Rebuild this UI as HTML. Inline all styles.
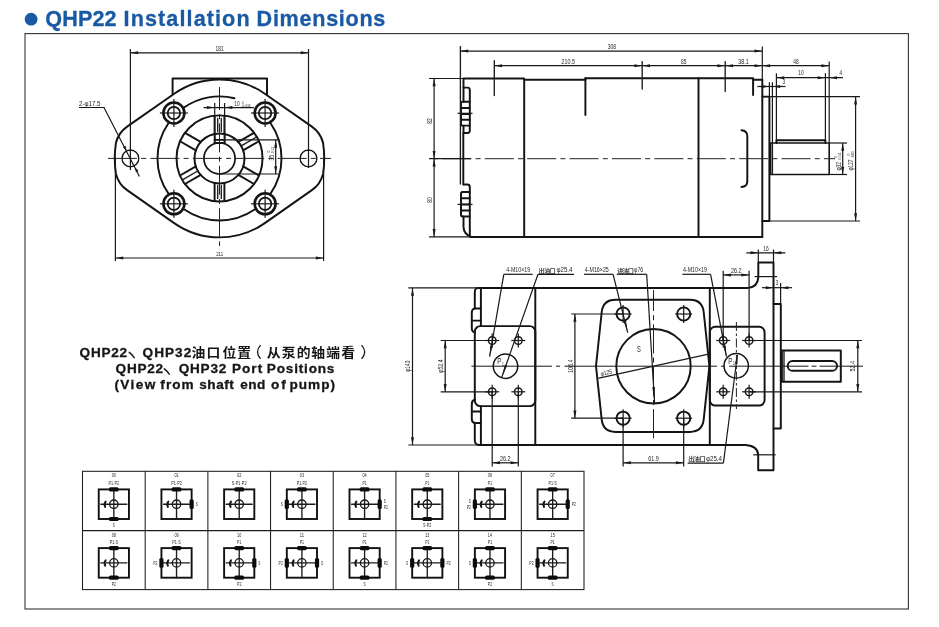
<!DOCTYPE html>
<html><head><meta charset="utf-8"><title>QHP22 Installation Dimensions</title>
<style>
html,body{margin:0;padding:0;background:#fff;overflow:hidden}
svg{display:block;position:absolute;left:0;top:0;will-change:transform;opacity:.999;filter:blur(.4px)}
text{font-family:"Liberation Sans","Noto Sans CJK SC",sans-serif}
.k{fill:none;stroke:#141414;stroke-width:1.95;stroke-linecap:round;stroke-linejoin:round}
.kk{fill:none;stroke:#111;stroke-width:1.9;stroke-linecap:butt;stroke-linejoin:round}
.m{fill:none;stroke:#1c1c1c;stroke-width:1.35;stroke-linecap:round}
.t{fill:none;stroke:#181818;stroke-width:1.2}
.c{fill:none;stroke:#222;stroke-width:1;stroke-dasharray:29 4.2 5 4.2}
.c2{fill:none;stroke:#222;stroke-width:1;stroke-dasharray:9 2.5 2.5 2.5}
.a{fill:#1a1a1a;stroke:none}
.d{fill:#262626;font-weight:400}
.g{fill:#161616;font-weight:700}
.gs{fill:#333;opacity:.9;font-weight:700}
.b{fill:#161616;font-weight:700;stroke:#161616;stroke-width:.3}
.h{fill:#1a5aa4;font-weight:700;stroke:#1a5aa4;stroke-width:.3}
.bar{fill:#0c0c0c;stroke:none}
.tb{fill:none;stroke:#1c1c1c;stroke-width:1.05}
.sq{fill:none;stroke:#111;stroke-width:1.9;stroke-linejoin:miter}
</style></head><body>
<svg width="939" height="627" viewBox="0 0 939 627">
<rect x="0" y="0" width="939" height="627" fill="#ffffff"/>
<rect x="25" y="33.6" width="883.4" height="575.4" fill="none" stroke="#333" stroke-width="1.1"/>
<circle cx="31.1" cy="19.2" r="6.4" fill="#1a5aa4"/>
<text class="h" transform="translate(45.2 26) scale(1.0 1)" font-size="21.6" letter-spacing="0.147">QHP22</text>
<text class="h" transform="translate(123.6 26) scale(1.0 1)" font-size="21.6" letter-spacing="1.092">Installation</text>
<text class="h" transform="translate(256.6 26) scale(1.0 1)" font-size="21.6" letter-spacing="0.710">Dimensions</text>
<text class="b" transform="translate(79.6 356.5) scale(1.07 1)" font-size="12.7" letter-spacing="0.672">QHP22</text>
<path class="t" d="M129.3,352.4Q132,354.4 134.2,357.6" style="stroke-width:1.5;stroke:#161616;stroke-linecap:round"/>
<text class="b" transform="translate(142.6 356.5) scale(1.07 1)" font-size="12.7" letter-spacing="0.953">QHP32</text>
<text class="g" transform="translate(191.6 356.9) scale(1.08 1)" font-size="12.8">油</text>
<text class="g" transform="translate(206.5 356.9) scale(1.08 1)" font-size="12.8">口</text>
<text class="g" transform="translate(222.4 356.9) scale(1.08 1)" font-size="12.8">位</text>
<text class="g" transform="translate(237.2 356.9) scale(1.08 1)" font-size="12.8">置</text>
<text class="g" transform="translate(266.8 356.9) scale(1.08 1)" font-size="12.8">从</text>
<text class="g" transform="translate(281.7 356.9) scale(1.08 1)" font-size="12.8">泵</text>
<text class="g" transform="translate(296.7 356.9) scale(1.08 1)" font-size="12.8">的</text>
<text class="g" transform="translate(311.3 356.9) scale(1.08 1)" font-size="12.8">轴</text>
<text class="g" transform="translate(326.3 356.9) scale(1.08 1)" font-size="12.8">端</text>
<text class="g" transform="translate(341.3 356.9) scale(1.08 1)" font-size="12.8">看</text>
<path class="t" d="M260.6,345.2Q254.4,352 260.6,358.9" style="stroke-width:1.25;stroke:#161616"/>
<path class="t" d="M361.6,345.2Q367.8,352 361.6,358.9" style="stroke-width:1.25;stroke:#161616"/>
<text class="b" transform="translate(115.6 373) scale(1.07 1)" font-size="12.7" letter-spacing="0.672">QHP22</text>
<path class="t" d="M164.3,368.9Q167,370.9 169.2,374.1" style="stroke-width:1.5;stroke:#161616;stroke-linecap:round"/>
<text class="b" transform="translate(178.8 373) scale(1.07 1)" font-size="12.7" letter-spacing="0.672">QHP32</text>
<text class="b" transform="translate(231.9 373) scale(1.07 1)" font-size="12.7" letter-spacing="0.981">Port</text>
<text class="b" transform="translate(266.8 373) scale(1.07 1)" font-size="12.7" letter-spacing="0.759">Positions</text>
<text class="b" transform="translate(114.4 389.2) scale(1.07 1)" font-size="12.7" letter-spacing="1.349">(View</text>
<text class="b" transform="translate(160.3 389.2) scale(1.07 1)" font-size="12.7" letter-spacing="1.004">from</text>
<text class="b" transform="translate(199.3 389.2) scale(1.07 1)" font-size="12.7" letter-spacing="0.483">shaft</text>
<text class="b" transform="translate(240.2 389.2) scale(1.07 1)" font-size="12.7" letter-spacing="0.494">end</text>
<text class="b" transform="translate(270.9 389.2) scale(1.07 1)" font-size="12.7" letter-spacing="1.941">of</text>
<text class="b" transform="translate(289.4 389.2) scale(1.07 1)" font-size="12.7" letter-spacing="0.963">pump)</text>
<path class="k" d="M174.19,93.69A79.0,79.0 0 0 1 264.81,93.69L311.87,126.64Q320.47,132.66 323.06,142.83A104.2,104.2 0 0 1 323.06,173.97Q320.47,184.14 311.87,190.16L264.81,223.11A79.0,79.0 0 0 1 174.19,223.11L127.13,190.16Q118.53,184.14 115.94,173.97A104.2,104.2 0 0 1 115.94,142.83Q118.53,132.66 127.13,126.64Z"/>
<path class="k" d="M172.6,94.5V78.5H267V94.5"/>
<path class="k" d="M270.6,193.52A62,62 0 0 0 270.6,123.28"/>
<path class="k" d="M184.38,209.5A62,62 0 0 0 254.62,209.5"/>
<path class="k" d="M168.4,123.28A62,62 0 0 0 168.4,193.52"/>
<path class="k" d="M234.5,98.24A62,62 0 0 0 184.38,107.3"/>
<circle class="k" cx="219.5" cy="158.4" r="43"/>
<circle class="k" cx="219.5" cy="158.4" r="25"/>
<circle class="k" cx="219.5" cy="158.4" r="15.6" style="stroke-width:1.7"/>
<line class="k" x1="214.6" y1="133.88" x2="214.6" y2="115.68"/>
<line class="k" x1="224.4" y1="133.88" x2="224.4" y2="115.68"/>
<line class="m" x1="217.7" y1="131.4" x2="217.7" y2="118.4"/>
<line class="m" x1="221.3" y1="131.4" x2="221.3" y2="118.4"/>
<line class="k" x1="238.28" y1="141.9" x2="254.05" y2="132.8"/>
<line class="k" x1="243.18" y1="150.39" x2="258.95" y2="141.28"/>
<line class="m" x1="241.32" y1="145.8" x2="256.57" y2="137"/>
<line class="k" x1="243.18" y1="166.41" x2="258.95" y2="175.52"/>
<line class="k" x1="238.28" y1="174.9" x2="254.05" y2="184"/>
<line class="k" x1="224.4" y1="182.92" x2="224.4" y2="201.12"/>
<line class="k" x1="214.6" y1="182.92" x2="214.6" y2="201.12"/>
<line class="m" x1="221.3" y1="185.4" x2="221.3" y2="198.4"/>
<line class="m" x1="217.7" y1="185.4" x2="217.7" y2="198.4"/>
<line class="k" x1="200.72" y1="174.9" x2="184.95" y2="184"/>
<line class="k" x1="195.82" y1="166.41" x2="180.05" y2="175.52"/>
<line class="m" x1="197.68" y1="171" x2="182.43" y2="179.8"/>
<line class="k" x1="195.82" y1="150.39" x2="180.05" y2="141.28"/>
<line class="k" x1="200.72" y1="141.9" x2="184.95" y2="132.8"/>
<line class="k" x1="214.7" y1="133.6" x2="214.7" y2="140"/>
<line class="k" x1="224.6" y1="133.6" x2="224.6" y2="140"/>
<path class="kk" d="M214.7,143.5V139.9H224.6V143.5"/>
<line class="k" x1="214.7" y1="142.9" x2="224.6" y2="142.9"/>
<circle class="k" cx="130.4" cy="158.4" r="8.4" style="stroke-width:1.35"/>
<circle class="k" cx="308.5" cy="158.4" r="8.4" style="stroke-width:1.35"/>
<circle class="k" cx="173.9" cy="113" r="10.5" style="stroke-width:2.6"/>
<circle class="k" cx="173.9" cy="113" r="6.2" style="stroke-width:1.8"/>
<line class="t" x1="159.9" y1="113" x2="187.9" y2="113"/>
<line class="t" x1="173.9" y1="99" x2="173.9" y2="127"/>
<circle class="k" cx="173.9" cy="203.8" r="10.5" style="stroke-width:2.6"/>
<circle class="k" cx="173.9" cy="203.8" r="6.2" style="stroke-width:1.8"/>
<line class="t" x1="159.9" y1="203.8" x2="187.9" y2="203.8"/>
<line class="t" x1="173.9" y1="189.8" x2="173.9" y2="217.8"/>
<circle class="k" cx="265.1" cy="113" r="10.5" style="stroke-width:2.6"/>
<circle class="k" cx="265.1" cy="113" r="6.2" style="stroke-width:1.8"/>
<line class="t" x1="251.1" y1="113" x2="279.1" y2="113"/>
<line class="t" x1="265.1" y1="99" x2="265.1" y2="127"/>
<circle class="k" cx="265.1" cy="203.8" r="10.5" style="stroke-width:2.6"/>
<circle class="k" cx="265.1" cy="203.8" r="6.2" style="stroke-width:1.8"/>
<line class="t" x1="251.1" y1="203.8" x2="279.1" y2="203.8"/>
<line class="t" x1="265.1" y1="189.8" x2="265.1" y2="217.8"/>
<line class="c" x1="108" y1="158.4" x2="331" y2="158.4"/>
<line class="c" x1="219.5" y1="87" x2="219.5" y2="246" stroke-dashoffset="6"/>
<line class="t" x1="130.4" y1="49" x2="130.4" y2="170"/>
<line class="t" x1="308.5" y1="49" x2="308.5" y2="168"/>
<line class="t" x1="130.4" y1="52.8" x2="308.5" y2="52.8"/>
<path class="a" d="M130.4,52.8L138.2,51.3L138.2,54.3Z"/>
<path class="a" d="M308.5,52.8L300.7,54.3L300.7,51.3Z"/>
<text class="d" x="219.6" y="50.6" font-size="6.6" text-anchor="middle" textLength="8.25" lengthAdjust="spacingAndGlyphs">181</text>
<line class="t" x1="115.4" y1="158.4" x2="115.4" y2="261"/>
<line class="t" x1="323.6" y1="158.4" x2="323.6" y2="261"/>
<line class="t" x1="115.4" y1="258" x2="323.6" y2="258"/>
<path class="a" d="M115.4,258L123.2,256.5L123.2,259.5Z"/>
<path class="a" d="M323.6,258L315.8,259.5L315.8,256.5Z"/>
<text class="d" x="219.6" y="256" font-size="5.6" text-anchor="middle" textLength="6.9" lengthAdjust="spacingAndGlyphs">211</text>
<line class="t" x1="214.7" y1="103" x2="214.7" y2="139"/>
<line class="t" x1="224.6" y1="103" x2="224.6" y2="139"/>
<line class="t" x1="203.5" y1="107.6" x2="254" y2="107.6"/>
<path class="a" d="M214.7,107.6L206.9,109.1L206.9,106.1Z"/>
<path class="a" d="M224.6,107.6L232.4,106.1L232.4,109.1Z"/>
<text class="d" x="237" y="106.3" font-size="6.6" text-anchor="middle" textLength="5.4" lengthAdjust="spacingAndGlyphs">10</text>
<text class="d" x="246" y="107.2" font-size="3.6" text-anchor="middle" textLength="9" lengthAdjust="spacingAndGlyphs">-0.036</text>
<text class="d" x="242.6" y="103.6" font-size="3.6" text-anchor="middle" textLength="1.8" lengthAdjust="spacingAndGlyphs">0</text>
<line class="t" x1="224.6" y1="139.9" x2="278.5" y2="139.9"/>
<line class="t" x1="219.5" y1="174" x2="278.5" y2="174"/>
<line class="t" x1="275.7" y1="139.9" x2="275.7" y2="174"/>
<path class="a" d="M275.7,139.9L277.2,147.7L274.2,147.7Z"/>
<path class="a" d="M275.7,174L274.2,166.2L277.2,166.2Z"/>
<text class="d" x="273.6" y="160.5" font-size="6.6" text-anchor="start" textLength="5.4" lengthAdjust="spacingAndGlyphs" transform="rotate(-90 273.6 160.5)">35</text>
<text class="d" x="273.8" y="154.4" font-size="3.6" text-anchor="start" textLength="7.5" lengthAdjust="spacingAndGlyphs" transform="rotate(-90 273.8 154.4)">-0.13</text>
<text class="d" x="270.4" y="152.5" font-size="3.6" text-anchor="start" textLength="1.8" lengthAdjust="spacingAndGlyphs" transform="rotate(-90 270.4 152.5)">0</text>
<text class="d" x="79" y="105.6" font-size="6.6" text-anchor="start" textLength="21.5" lengthAdjust="spacingAndGlyphs">2-φ17.5</text>
<path class="t" d="M79,107.5H104L139.4,176.4"/>
<path class="a" d="M126.6,151L122.97,147.24L125.64,145.87Z"/>
<path class="a" d="M135,167.2L138.63,170.96L135.96,172.33Z"/>
<path class="k" d="M463.5,101.8V78.5H524V79.7H585.4V78.3H753.1V95.1"/>
<path class="k" d="M753.1,79.8H762.3"/>
<line class="k" x1="524.2" y1="79" x2="524.2" y2="236.9"/>
<line class="k" x1="585.4" y1="78.3" x2="585.4" y2="115"/>
<line class="k" x1="698.5" y1="78.3" x2="698.5" y2="236.9"/>
<line class="k" x1="762.3" y1="79.8" x2="762.3" y2="236.9"/>
<path class="k" d="M470.5,236.9H762.3"/>
<path class="k" d="M463.5,87.6H467.5Q469.8,87.6 469.8,90V130.5Q469.8,133 467.5,133H463.8"/>
<path class="k" d="M469.8,101.8H462.5Q461,101.8 461,103.5V124Q461,125.6 462.5,125.6H469.8"/>
<line class="k" x1="461" y1="108" x2="469.8" y2="108"/>
<line class="k" x1="461" y1="114" x2="469.8" y2="114"/>
<line class="k" x1="461" y1="119.8" x2="469.8" y2="119.8"/>
<line class="t" x1="457.5" y1="113.3" x2="472.5" y2="113.3"/>
<line class="m" x1="460.4" y1="46.6" x2="460.4" y2="184"/>
<line class="k" x1="463.3" y1="133" x2="463.3" y2="184.5"/>
<line class="k" x1="463.5" y1="125.6" x2="463.5" y2="133"/>
<path class="k" d="M463.8,184.5H467.5Q469.8,184.5 469.8,187V235.5"/>
<path class="k" d="M469.8,192H462.5Q461,192 461,193.7V214.7Q461,216.4 462.5,216.4H469.8"/>
<line class="k" x1="461" y1="198.3" x2="469.8" y2="198.3"/>
<line class="k" x1="461" y1="204.4" x2="469.8" y2="204.4"/>
<line class="k" x1="461" y1="210.5" x2="469.8" y2="210.5"/>
<line class="t" x1="457.5" y1="204.4" x2="472.5" y2="204.4"/>
<path class="k" d="M463.5,216.4V227Q463.8,234 471,236.9"/>
<path class="k" d="M741.5,130.2Q747.3,130.6 747.3,136V181.5Q747.3,186.6 741.5,187"/>
<path class="k" d="M762.3,96.6H769.4V221H762.3"/>
<line class="t" x1="762.3" y1="96.6" x2="860" y2="96.6"/>
<line class="t" x1="762.3" y1="221" x2="860" y2="221"/>
<path class="k" d="M770.6,143H829.2V174.5H770.6Z" style="stroke-width:1.6"/>
<line class="m" x1="772.4" y1="143" x2="772.4" y2="174.5"/>
<path class="k" d="M776.4,143V140.2H825.4V143"/>
<line class="t" x1="829.2" y1="143" x2="847" y2="143"/>
<line class="t" x1="829.2" y1="174.5" x2="847" y2="174.5"/>
<line class="c" x1="429" y1="158.7" x2="835" y2="158.7" stroke-dashoffset="29"/>
<line class="t" x1="429" y1="158.7" x2="471" y2="158.7"/>
<line class="t" x1="429" y1="78.5" x2="463" y2="78.5"/>
<line class="t" x1="429" y1="236.9" x2="470" y2="236.9"/>
<line class="t" x1="434.1" y1="78.5" x2="434.1" y2="236.9"/>
<path class="a" d="M434.1,78.5L435.6,86.3L432.6,86.3Z"/>
<path class="a" d="M434.1,158.7L432.6,150.9L435.6,150.9Z"/>
<path class="a" d="M434.1,158.7L435.6,166.5L432.6,166.5Z"/>
<path class="a" d="M434.1,236.9L432.6,229.1L435.6,229.1Z"/>
<text class="d" x="431.6" y="121" font-size="6.6" text-anchor="middle" textLength="5.4" lengthAdjust="spacingAndGlyphs" transform="rotate(-90 431.6 121)">82</text>
<text class="d" x="431.6" y="200" font-size="6.6" text-anchor="middle" textLength="5.4" lengthAdjust="spacingAndGlyphs" transform="rotate(-90 431.6 200)">80</text>
<line class="t" x1="460.4" y1="51.1" x2="762.3" y2="51.1"/>
<path class="a" d="M460.4,51.1L468.2,49.6L468.2,52.6Z"/>
<path class="a" d="M762.3,51.1L754.5,52.6L754.5,49.6Z"/>
<text class="d" x="611.8" y="48.8" font-size="6.6" text-anchor="middle" textLength="8.25" lengthAdjust="spacingAndGlyphs">308</text>
<line class="t" x1="762.3" y1="46.6" x2="762.3" y2="80"/>
<line class="m" x1="494.3" y1="60.7" x2="494.3" y2="95.6"/>
<line class="m" x1="642.2" y1="61.6" x2="642.2" y2="89"/>
<line class="m" x1="725.2" y1="61.6" x2="725.2" y2="91.5"/>
<line class="t" x1="829.2" y1="61.6" x2="829.2" y2="143"/>
<line class="t" x1="494.3" y1="65.7" x2="829.2" y2="65.7"/>
<path class="a" d="M494.3,65.7L502.1,64.2L502.1,67.2Z"/>
<path class="a" d="M642.2,65.7L634.4,67.2L634.4,64.2Z"/>
<path class="a" d="M642.2,65.7L650,64.2L650,67.2Z"/>
<path class="a" d="M725.2,65.7L717.4,67.2L717.4,64.2Z"/>
<path class="a" d="M725.2,65.7L733,64.2L733,67.2Z"/>
<path class="a" d="M762.3,65.7L754.5,67.2L754.5,64.2Z"/>
<path class="a" d="M762.3,65.7L770.1,64.2L770.1,67.2Z"/>
<path class="a" d="M829.2,65.7L821.4,67.2L821.4,64.2Z"/>
<text class="d" x="568.3" y="64.1" font-size="6.6" text-anchor="middle" textLength="13.5" lengthAdjust="spacingAndGlyphs">210.5</text>
<text class="d" x="683.8" y="64.1" font-size="6.6" text-anchor="middle" textLength="5.4" lengthAdjust="spacingAndGlyphs">85</text>
<text class="d" x="743.5" y="64.1" font-size="6.6" text-anchor="middle" textLength="10.5" lengthAdjust="spacingAndGlyphs">38.1</text>
<text class="d" x="796" y="64.1" font-size="6.6" text-anchor="middle" textLength="5.4" lengthAdjust="spacingAndGlyphs">48</text>
<line class="t" x1="776.4" y1="73.2" x2="776.4" y2="140"/>
<line class="t" x1="825.4" y1="73.2" x2="825.4" y2="140"/>
<line class="t" x1="776.4" y1="77.7" x2="843" y2="77.7"/>
<path class="a" d="M776.4,77.7L784.2,76.2L784.2,79.2Z"/>
<path class="a" d="M825.4,77.7L817.6,79.2L817.6,76.2Z"/>
<path class="a" d="M829.2,77.7L837,76.2L837,79.2Z"/>
<text class="d" x="801" y="75.3" font-size="6.6" text-anchor="middle" textLength="5.4" lengthAdjust="spacingAndGlyphs">10</text>
<text class="d" x="840.9" y="75.3" font-size="6.6" text-anchor="middle" textLength="2.6" lengthAdjust="spacingAndGlyphs">4</text>
<line class="t" x1="769.4" y1="82.3" x2="769.4" y2="97"/>
<line class="t" x1="772.4" y1="82.3" x2="772.4" y2="143"/>
<line class="t" x1="757.3" y1="86.5" x2="785.5" y2="86.5"/>
<path class="a" d="M769.4,86.5L761.6,88L761.6,85Z"/>
<path class="a" d="M772.4,86.5L780.2,85L780.2,88Z"/>
<text class="d" x="783.9" y="84.4" font-size="6.6" text-anchor="middle" textLength="2.6" lengthAdjust="spacingAndGlyphs">3</text>
<line class="t" x1="842.7" y1="143" x2="842.7" y2="174.5"/>
<path class="a" d="M842.7,143L844.2,150.8L841.2,150.8Z"/>
<path class="a" d="M842.7,174.5L841.2,166.7L844.2,166.7Z"/>
<line class="t" x1="855.6" y1="96.6" x2="855.6" y2="221"/>
<path class="a" d="M855.6,96.6L857.1,104.4L854.1,104.4Z"/>
<path class="a" d="M855.6,221L854.1,213.2L857.1,213.2Z"/>
<text class="d" x="840.6" y="170.5" font-size="6.6" text-anchor="start" textLength="8.5" lengthAdjust="spacingAndGlyphs" transform="rotate(-90 840.6 170.5)">φ32</text>
<text class="d" x="840.8" y="160.5" font-size="3.6" text-anchor="start" textLength="8" lengthAdjust="spacingAndGlyphs" transform="rotate(-90 840.8 160.5)">-0.011</text>
<text class="d" x="837.4" y="158" font-size="3.6" text-anchor="start" textLength="1.8" lengthAdjust="spacingAndGlyphs" transform="rotate(-90 837.4 158)">0</text>
<text class="d" x="853.4" y="170.5" font-size="6.6" text-anchor="start" textLength="11" lengthAdjust="spacingAndGlyphs" transform="rotate(-90 853.4 170.5)">φ127</text>
<text class="d" x="853.6" y="158" font-size="3.6" text-anchor="start" textLength="7" lengthAdjust="spacingAndGlyphs" transform="rotate(-90 853.6 158)">-0.05</text>
<text class="d" x="850.2" y="155.5" font-size="3.6" text-anchor="start" textLength="1.8" lengthAdjust="spacingAndGlyphs" transform="rotate(-90 850.2 155.5)">0</text>
<path class="k" d="M478.5,287.9H748Q757.8,287 758.3,277.4V262.5H773.5V470.2H758.2V454.8Q757.8,446 745.8,445H479"/>
<path class="k" d="M478.5,287.9Q474.8,288 474.8,292V308.5"/>
<path class="k" d="M474.8,423V440.5Q475,444.6 479,445"/>
<line class="k" x1="480.9" y1="287.9" x2="480.9" y2="326.1"/>
<line class="k" x1="480.9" y1="406.1" x2="480.9" y2="445"/>
<path class="k" d="M480.9,308.5H474.8Q471.8,309 471.8,313V328Q471.8,332 474.8,332.2H475"/>
<line class="k" x1="471.8" y1="320.6" x2="480.9" y2="320.6"/>
<path class="k" d="M475,399.8H474.8Q471.8,400.5 471.8,404V419Q471.8,422.6 474.8,423H480.9"/>
<line class="k" x1="471.8" y1="411.4" x2="480.9" y2="411.4"/>
<line class="k" x1="535.3" y1="287.9" x2="535.3" y2="445"/>
<line class="k" x1="709.8" y1="287.9" x2="709.8" y2="445"/>
<rect class="k" x="474.8" y="326.1" width="60.5" height="80" rx="5.5"/>
<rect class="k" x="709.8" y="326.8" width="54.8" height="78.8" rx="5.5"/>
<circle class="k" cx="492.2" cy="340.5" r="3.8" style="stroke-width:1.4"/>
<line class="t" x1="485.2" y1="340.5" x2="499.2" y2="340.5"/>
<line class="t" x1="492.2" y1="333.5" x2="492.2" y2="347.5"/>
<circle class="k" cx="518.3" cy="340.5" r="3.8" style="stroke-width:1.4"/>
<line class="t" x1="511.3" y1="340.5" x2="525.3" y2="340.5"/>
<line class="t" x1="518.3" y1="333.5" x2="518.3" y2="347.5"/>
<circle class="k" cx="492.2" cy="391.8" r="3.8" style="stroke-width:1.4"/>
<line class="t" x1="485.2" y1="391.8" x2="499.2" y2="391.8"/>
<line class="t" x1="492.2" y1="384.8" x2="492.2" y2="398.8"/>
<circle class="k" cx="518.3" cy="391.8" r="3.8" style="stroke-width:1.4"/>
<line class="t" x1="511.3" y1="391.8" x2="525.3" y2="391.8"/>
<line class="t" x1="518.3" y1="384.8" x2="518.3" y2="398.8"/>
<circle class="k" cx="723.2" cy="340.5" r="3.8" style="stroke-width:1.4"/>
<line class="t" x1="716.2" y1="340.5" x2="730.2" y2="340.5"/>
<line class="t" x1="723.2" y1="333.5" x2="723.2" y2="347.5"/>
<circle class="k" cx="749.1" cy="340.5" r="3.8" style="stroke-width:1.4"/>
<line class="t" x1="742.1" y1="340.5" x2="756.1" y2="340.5"/>
<line class="t" x1="749.1" y1="333.5" x2="749.1" y2="347.5"/>
<circle class="k" cx="723.2" cy="391.8" r="3.8" style="stroke-width:1.4"/>
<line class="t" x1="716.2" y1="391.8" x2="730.2" y2="391.8"/>
<line class="t" x1="723.2" y1="384.8" x2="723.2" y2="398.8"/>
<circle class="k" cx="749.1" cy="391.8" r="3.8" style="stroke-width:1.4"/>
<line class="t" x1="742.1" y1="391.8" x2="756.1" y2="391.8"/>
<line class="t" x1="749.1" y1="384.8" x2="749.1" y2="398.8"/>
<circle class="k" cx="505.5" cy="366.2" r="12.2" style="stroke-width:1.5"/>
<circle class="k" cx="736.2" cy="365.8" r="12.2" style="stroke-width:1.5"/>
<path class="k" d="M615.5,299.8Q603,299.8 601.69,312.23L596,366.2L601.68,419.47Q603,431.9 615.5,431.9L689.9,431.9Q702.4,431.9 703.72,419.47L709.4,366.2L703.71,312.23Q702.4,299.8 689.9,299.8Z"/>
<circle class="k" cx="653.5" cy="366.2" r="37.2"/>
<circle class="k" cx="623.1" cy="314" r="6.6" style="stroke-width:1.9"/>
<line class="t" x1="614.6" y1="314" x2="631.6" y2="314"/>
<line class="t" x1="623.1" y1="305" x2="623.1" y2="323"/>
<circle class="k" cx="683.7" cy="314" r="6.6" style="stroke-width:1.9"/>
<line class="t" x1="675.2" y1="314" x2="692.2" y2="314"/>
<line class="t" x1="683.7" y1="305" x2="683.7" y2="323"/>
<circle class="k" cx="623.1" cy="418.2" r="6.6" style="stroke-width:1.9"/>
<line class="t" x1="614.6" y1="418.2" x2="631.6" y2="418.2"/>
<line class="t" x1="623.1" y1="409.2" x2="623.1" y2="427.2"/>
<circle class="k" cx="683.7" cy="418.2" r="6.6" style="stroke-width:1.9"/>
<line class="t" x1="675.2" y1="418.2" x2="692.2" y2="418.2"/>
<line class="t" x1="683.7" y1="409.2" x2="683.7" y2="427.2"/>
<line class="m" x1="599" y1="378.2" x2="708.5" y2="354.1"/>
<text class="d" font-size="6.2" text-anchor="middle" textLength="12" lengthAdjust="spacingAndGlyphs" transform="translate(606.8 374.6) rotate(-12.4)">φ125</text>
<line class="t" x1="471.4" y1="366.2" x2="552" y2="366.2" style="stroke-width:1"/>
<line class="t" x1="556" y1="366.2" x2="560" y2="366.2" style="stroke-width:1"/>
<line class="t" x1="564.5" y1="366.2" x2="717" y2="366.2" style="stroke-width:1"/>
<line class="t" x1="721" y1="366.2" x2="725" y2="366.2" style="stroke-width:1"/>
<line class="t" x1="729" y1="366.2" x2="808.5" y2="366.2" style="stroke-width:1"/>
<line class="t" x1="811.5" y1="366.2" x2="816.5" y2="366.2" style="stroke-width:1"/>
<line class="t" x1="819.5" y1="366.2" x2="863" y2="366.2" style="stroke-width:1"/>
<line class="c" x1="653.5" y1="290" x2="653.5" y2="438.5" stroke-dashoffset="8"/>
<line class="c2" x1="736.4" y1="322" x2="736.4" y2="409"/>
<path class="k" d="M773.5,304H780.8V428.5H773.5"/>
<path class="k" d="M781.9,350.4H840.8V381.8H781.9Z"/>
<line class="m" x1="784" y1="350.4" x2="784" y2="381.8"/>
<rect class="k" x="787.7" y="361" width="49.3" height="9.8" rx="4.9"/>
<line class="t" x1="754.6" y1="276.6" x2="777" y2="276.6"/>
<line class="t" x1="753.3" y1="454.8" x2="775.7" y2="454.8"/>
<line class="t" x1="758.3" y1="249.5" x2="758.3" y2="262"/>
<line class="t" x1="773.5" y1="249.5" x2="773.5" y2="262"/>
<line class="t" x1="746.3" y1="252.8" x2="785.4" y2="252.8"/>
<path class="a" d="M758.3,252.8L750.5,254.3L750.5,251.3Z"/>
<path class="a" d="M773.5,252.8L781.3,251.3L781.3,254.3Z"/>
<text class="d" x="766" y="250.6" font-size="6.6" text-anchor="middle" textLength="5.4" lengthAdjust="spacingAndGlyphs">16</text>
<line class="t" x1="773.5" y1="283" x2="773.5" y2="304"/>
<line class="t" x1="780.6" y1="283" x2="780.6" y2="304"/>
<line class="t" x1="762" y1="287.7" x2="792" y2="287.7"/>
<path class="a" d="M773.5,287.7L765.7,289.2L765.7,286.2Z"/>
<path class="a" d="M780.6,287.7L788.4,286.2L788.4,289.2Z"/>
<text class="d" x="777" y="284.6" font-size="6.6" text-anchor="middle" textLength="2.6" lengthAdjust="spacingAndGlyphs">3</text>
<line class="t" x1="749.1" y1="340.5" x2="862" y2="340.5"/>
<line class="t" x1="749.1" y1="391.8" x2="862" y2="391.8"/>
<line class="t" x1="857.8" y1="340.5" x2="857.8" y2="391.8"/>
<path class="a" d="M857.8,340.5L859.3,348.3L856.3,348.3Z"/>
<path class="a" d="M857.8,391.8L856.3,384L859.3,384Z"/>
<text class="d" x="855" y="366.2" font-size="6.6" text-anchor="middle" textLength="10.5" lengthAdjust="spacingAndGlyphs" transform="rotate(-90 855 366.2)">52.4</text>
<line class="t" x1="723.2" y1="270.8" x2="723.2" y2="340.5"/>
<line class="t" x1="749.1" y1="270.8" x2="749.1" y2="340.5"/>
<line class="t" x1="723.2" y1="274.9" x2="749.1" y2="274.9"/>
<path class="a" d="M723.2,274.9L731,273.4L731,276.4Z"/>
<path class="a" d="M749.1,274.9L741.3,276.4L741.3,273.4Z"/>
<text class="d" x="736.2" y="272.6" font-size="6.6" text-anchor="middle" textLength="10.5" lengthAdjust="spacingAndGlyphs">26.2</text>
<line class="t" x1="492.2" y1="391.8" x2="492.2" y2="466.5"/>
<line class="t" x1="518.3" y1="391.8" x2="518.3" y2="466.5"/>
<line class="t" x1="492.2" y1="462.8" x2="518.3" y2="462.8"/>
<path class="a" d="M492.2,462.8L500,461.3L500,464.3Z"/>
<path class="a" d="M518.3,462.8L510.5,464.3L510.5,461.3Z"/>
<text class="d" x="505.2" y="460.6" font-size="6.6" text-anchor="middle" textLength="10.5" lengthAdjust="spacingAndGlyphs">26.2</text>
<line class="t" x1="623.1" y1="418.2" x2="623.1" y2="466.5"/>
<line class="t" x1="683.7" y1="418.2" x2="683.7" y2="466.5"/>
<line class="t" x1="623.1" y1="462.8" x2="683.7" y2="462.8"/>
<path class="a" d="M623.1,462.8L630.9,461.3L630.9,464.3Z"/>
<path class="a" d="M683.7,462.8L675.9,464.3L675.9,461.3Z"/>
<text class="d" x="653.5" y="460.6" font-size="6.6" text-anchor="middle" textLength="10.5" lengthAdjust="spacingAndGlyphs">61.9</text>
<line class="t" x1="571.2" y1="314" x2="623" y2="314"/>
<line class="t" x1="571.2" y1="418.2" x2="623" y2="418.2"/>
<line class="t" x1="574.9" y1="314" x2="574.9" y2="418.2"/>
<path class="a" d="M574.9,314L576.4,321.8L573.4,321.8Z"/>
<path class="a" d="M574.9,418.2L573.4,410.4L576.4,410.4Z"/>
<text class="d" x="572.6" y="366.2" font-size="6.6" text-anchor="middle" textLength="13.5" lengthAdjust="spacingAndGlyphs" transform="rotate(-90 572.6 366.2)">106.4</text>
<line class="t" x1="440.7" y1="340.5" x2="492" y2="340.5"/>
<line class="t" x1="440.7" y1="391.8" x2="492" y2="391.8"/>
<line class="t" x1="445.2" y1="340.5" x2="445.2" y2="391.8"/>
<path class="a" d="M445.2,340.5L446.7,348.3L443.7,348.3Z"/>
<path class="a" d="M445.2,391.8L443.7,384L446.7,384Z"/>
<text class="d" x="442.8" y="366.2" font-size="6.6" text-anchor="middle" textLength="13.5" lengthAdjust="spacingAndGlyphs" transform="rotate(-90 442.8 366.2)">φ52.4</text>
<line class="t" x1="408.3" y1="287.9" x2="478" y2="287.9"/>
<line class="t" x1="408.3" y1="445" x2="479" y2="445"/>
<line class="t" x1="412.5" y1="287.9" x2="412.5" y2="445"/>
<path class="a" d="M412.5,287.9L414,295.7L411,295.7Z"/>
<path class="a" d="M412.5,445L411,437.2L414,437.2Z"/>
<text class="d" x="410.2" y="366.2" font-size="6.6" text-anchor="middle" textLength="11" lengthAdjust="spacingAndGlyphs" transform="rotate(-90 410.2 366.2)">φ140</text>
<text class="d" x="518.2" y="272.4" font-size="6.6" text-anchor="middle" textLength="24" lengthAdjust="spacingAndGlyphs">4-M10×19</text>
<path class="t" d="M503.8,274.3H532.6"/>
<line class="t" x1="503.8" y1="274.3" x2="489.6" y2="356.6"/>
<path class="a" d="M489.6,356.6L490.24,345.55L492.7,345.97Z"/>
<text class="gs" x="538.4" y="272.6" font-size="6.2" textLength="17.4" lengthAdjust="spacing">出油口</text>
<text class="d" x="564.5" y="272.4" font-size="6.6" text-anchor="middle" textLength="16" lengthAdjust="spacingAndGlyphs">φ25.4</text>
<path class="t" d="M538,274.3H574"/>
<line class="t" x1="538" y1="274.3" x2="501.7" y2="377.4"/>
<path class="a" d="M501.7,377.4L504.84,364.72L507.2,365.55Z"/>
<text class="d" x="596.8" y="272.4" font-size="6.6" text-anchor="middle" textLength="24" lengthAdjust="spacingAndGlyphs">4-M16×25</text>
<path class="t" d="M584,274.3H613.1"/>
<line class="t" x1="613.1" y1="274.3" x2="627.7" y2="332.6"/>
<path class="a" d="M627.7,332.6L623.58,321.26L626.01,320.65Z"/>
<text class="gs" x="617.2" y="272.6" font-size="6.2" textLength="16.8" lengthAdjust="spacing">进油口</text>
<text class="d" x="638.6" y="272.4" font-size="6.6" text-anchor="middle" textLength="9" lengthAdjust="spacingAndGlyphs">φ76</text>
<path class="t" d="M616.8,274.3H646.7"/>
<line class="t" x1="646.7" y1="274.3" x2="654.6" y2="403"/>
<path class="a" d="M654.6,403L652.33,387.11L654.92,386.95Z"/>
<text class="d" x="695" y="272.4" font-size="6.6" text-anchor="middle" textLength="24" lengthAdjust="spacingAndGlyphs">4-M10×19</text>
<path class="t" d="M682.4,274.3H710.6"/>
<line class="t" x1="710.6" y1="274.3" x2="726.5" y2="356.6"/>
<path class="a" d="M726.5,356.6L723.17,346.04L725.63,345.56Z"/>
<text class="gs" x="688.2" y="461.4" font-size="6.2" textLength="17.4" lengthAdjust="spacing">出油口</text>
<text class="d" x="714" y="461.2" font-size="6.6" text-anchor="middle" textLength="16" lengthAdjust="spacingAndGlyphs">φ25.4</text>
<path class="t" d="M687.7,463.1H723.4"/>
<line class="t" x1="723.4" y1="463.1" x2="737.4" y2="355"/>
<path class="a" d="M737.4,355L737.53,364.09L734.95,363.76Z"/>
<text class="d" x="499.4" y="364.2" font-size="9" text-anchor="middle" textLength="4.2" lengthAdjust="spacingAndGlyphs">P</text>
<text class="d" x="502.9" y="365.6" font-size="5" text-anchor="middle" textLength="1.8" lengthAdjust="spacingAndGlyphs">1</text>
<text class="d" x="730.4" y="363.8" font-size="9" text-anchor="middle" textLength="4.2" lengthAdjust="spacingAndGlyphs">P</text>
<text class="d" x="733.9" y="365.2" font-size="5" text-anchor="middle" textLength="1.8" lengthAdjust="spacingAndGlyphs">1</text>
<text class="d" x="638.9" y="352.2" font-size="9.5" text-anchor="middle" textLength="3.8" lengthAdjust="spacingAndGlyphs">S</text>
<rect class="tb" x="82.5" y="471.3" width="501.5" height="118.3" style="stroke-linecap:butt"/>
<line class="tb" x1="82.5" y1="530.6" x2="584" y2="530.6"/>
<line class="tb" x1="145.19" y1="471.3" x2="145.19" y2="589.6"/>
<line class="tb" x1="207.88" y1="471.3" x2="207.88" y2="589.6"/>
<line class="tb" x1="270.56" y1="471.3" x2="270.56" y2="589.6"/>
<line class="tb" x1="333.25" y1="471.3" x2="333.25" y2="589.6"/>
<line class="tb" x1="395.94" y1="471.3" x2="395.94" y2="589.6"/>
<line class="tb" x1="458.62" y1="471.3" x2="458.62" y2="589.6"/>
<line class="tb" x1="521.31" y1="471.3" x2="521.31" y2="589.6"/>
<rect class="sq" x="98.74" y="489.4" width="30.2" height="29.6"/>
<circle class="k" cx="113.84" cy="504.2" r="4.2" style="stroke-width:1.3"/>
<line class="m" x1="100.84" y1="504.2" x2="126.84" y2="504.2"/>
<line class="m" x1="113.84" y1="489.4" x2="113.84" y2="519"/>
<path class="k" d="M105.64,501.6Q103.64,504.2 105.24,507" style="stroke-width:1.9"/>
<rect class="bar" x="108.94" y="487.3" width="9.8" height="4.2" rx="1.6"/>
<text class="d" x="113.84" y="477.3" font-size="5.0" text-anchor="middle" textLength="4.2" lengthAdjust="spacingAndGlyphs">00</text>
<text class="d" x="113.84" y="484.5" font-size="5.0" text-anchor="middle" textLength="10.5" lengthAdjust="spacingAndGlyphs">P1·P2</text>
<rect class="bar" x="108.94" y="516.9" width="9.8" height="4.2" rx="1.6"/>
<text class="d" x="113.84" y="526.8" font-size="5.0" text-anchor="middle" textLength="2.1" lengthAdjust="spacingAndGlyphs">S</text>
<rect class="sq" x="161.43" y="489.4" width="30.2" height="29.6"/>
<circle class="k" cx="176.53" cy="504.2" r="4.2" style="stroke-width:1.3"/>
<line class="m" x1="163.53" y1="504.2" x2="189.53" y2="504.2"/>
<line class="m" x1="176.53" y1="489.4" x2="176.53" y2="519"/>
<path class="k" d="M168.33,501.6Q166.33,504.2 167.93,507" style="stroke-width:1.9"/>
<rect class="bar" x="171.63" y="487.3" width="9.8" height="4.2" rx="1.6"/>
<text class="d" x="176.53" y="477.3" font-size="5.0" text-anchor="middle" textLength="4.2" lengthAdjust="spacingAndGlyphs">01</text>
<text class="d" x="176.53" y="484.5" font-size="5.0" text-anchor="middle" textLength="10.5" lengthAdjust="spacingAndGlyphs">P1·P2</text>
<rect class="bar" x="189.53" y="499.3" width="4.2" height="9.8" rx="1.6"/>
<text class="d" x="195.63" y="506.1" font-size="5.0" text-anchor="start" textLength="2.1" lengthAdjust="spacingAndGlyphs">S</text>
<rect class="sq" x="224.12" y="489.4" width="30.2" height="29.6"/>
<circle class="k" cx="239.22" cy="504.2" r="4.2" style="stroke-width:1.3"/>
<line class="m" x1="226.22" y1="504.2" x2="252.22" y2="504.2"/>
<line class="m" x1="239.22" y1="489.4" x2="239.22" y2="519"/>
<path class="k" d="M231.02,501.6Q229.02,504.2 230.62,507" style="stroke-width:1.9"/>
<rect class="bar" x="234.32" y="487.3" width="9.8" height="4.2" rx="1.6"/>
<text class="d" x="239.22" y="477.3" font-size="5.0" text-anchor="middle" textLength="4.2" lengthAdjust="spacingAndGlyphs">02</text>
<text class="d" x="239.22" y="484.5" font-size="5.0" text-anchor="middle" textLength="14.7" lengthAdjust="spacingAndGlyphs">S·P1·P2</text>
<rect class="sq" x="286.81" y="489.4" width="30.2" height="29.6"/>
<circle class="k" cx="301.91" cy="504.2" r="4.2" style="stroke-width:1.3"/>
<line class="m" x1="288.91" y1="504.2" x2="314.91" y2="504.2"/>
<line class="m" x1="301.91" y1="489.4" x2="301.91" y2="519"/>
<path class="k" d="M293.71,501.6Q291.71,504.2 293.31,507" style="stroke-width:1.9"/>
<rect class="bar" x="297.01" y="487.3" width="9.8" height="4.2" rx="1.6"/>
<text class="d" x="301.91" y="477.3" font-size="5.0" text-anchor="middle" textLength="4.2" lengthAdjust="spacingAndGlyphs">03</text>
<text class="d" x="301.91" y="484.5" font-size="5.0" text-anchor="middle" textLength="10.5" lengthAdjust="spacingAndGlyphs">P1·P2</text>
<rect class="bar" x="284.71" y="499.3" width="4.2" height="9.8" rx="1.6"/>
<text class="d" x="282.81" y="506.1" font-size="5.0" text-anchor="end" textLength="2.1" lengthAdjust="spacingAndGlyphs">S</text>
<rect class="sq" x="349.49" y="489.4" width="30.2" height="29.6"/>
<circle class="k" cx="364.59" cy="504.2" r="4.2" style="stroke-width:1.3"/>
<line class="m" x1="351.59" y1="504.2" x2="377.59" y2="504.2"/>
<line class="m" x1="364.59" y1="489.4" x2="364.59" y2="519"/>
<path class="k" d="M356.39,501.6Q354.39,504.2 355.99,507" style="stroke-width:1.9"/>
<rect class="bar" x="359.69" y="487.3" width="9.8" height="4.2" rx="1.6"/>
<text class="d" x="364.59" y="477.3" font-size="5.0" text-anchor="middle" textLength="4.2" lengthAdjust="spacingAndGlyphs">04</text>
<text class="d" x="364.59" y="484.5" font-size="5.0" text-anchor="middle" textLength="4.2" lengthAdjust="spacingAndGlyphs">P1</text>
<rect class="bar" x="377.59" y="499.3" width="4.2" height="9.8" rx="1.6"/>
<text class="d" x="383.69" y="502.8" font-size="5.0" text-anchor="start" textLength="2.1" lengthAdjust="spacingAndGlyphs">S</text>
<text class="d" x="383.69" y="509.4" font-size="5.0" text-anchor="start" textLength="4.2" lengthAdjust="spacingAndGlyphs">P2</text>
<rect class="sq" x="412.18" y="489.4" width="30.2" height="29.6"/>
<circle class="k" cx="427.28" cy="504.2" r="4.2" style="stroke-width:1.3"/>
<line class="m" x1="414.28" y1="504.2" x2="440.28" y2="504.2"/>
<line class="m" x1="427.28" y1="489.4" x2="427.28" y2="519"/>
<path class="k" d="M419.08,501.6Q417.08,504.2 418.68,507" style="stroke-width:1.9"/>
<rect class="bar" x="422.38" y="487.3" width="9.8" height="4.2" rx="1.6"/>
<text class="d" x="427.28" y="477.3" font-size="5.0" text-anchor="middle" textLength="4.2" lengthAdjust="spacingAndGlyphs">05</text>
<text class="d" x="427.28" y="484.5" font-size="5.0" text-anchor="middle" textLength="4.2" lengthAdjust="spacingAndGlyphs">P1</text>
<rect class="bar" x="422.38" y="516.9" width="9.8" height="4.2" rx="1.6"/>
<text class="d" x="427.28" y="526.8" font-size="5.0" text-anchor="middle" textLength="8.4" lengthAdjust="spacingAndGlyphs">S·P2</text>
<rect class="sq" x="474.87" y="489.4" width="30.2" height="29.6"/>
<circle class="k" cx="489.97" cy="504.2" r="4.2" style="stroke-width:1.3"/>
<line class="m" x1="476.97" y1="504.2" x2="502.97" y2="504.2"/>
<line class="m" x1="489.97" y1="489.4" x2="489.97" y2="519"/>
<path class="k" d="M481.77,501.6Q479.77,504.2 481.37,507" style="stroke-width:1.9"/>
<rect class="bar" x="485.07" y="487.3" width="9.8" height="4.2" rx="1.6"/>
<text class="d" x="489.97" y="477.3" font-size="5.0" text-anchor="middle" textLength="4.2" lengthAdjust="spacingAndGlyphs">06</text>
<text class="d" x="489.97" y="484.5" font-size="5.0" text-anchor="middle" textLength="4.2" lengthAdjust="spacingAndGlyphs">P1</text>
<rect class="bar" x="472.77" y="499.3" width="4.2" height="9.8" rx="1.6"/>
<text class="d" x="470.87" y="502.8" font-size="5.0" text-anchor="end" textLength="2.1" lengthAdjust="spacingAndGlyphs">S</text>
<text class="d" x="470.87" y="509.4" font-size="5.0" text-anchor="end" textLength="4.2" lengthAdjust="spacingAndGlyphs">P2</text>
<rect class="sq" x="537.56" y="489.4" width="30.2" height="29.6"/>
<circle class="k" cx="552.66" cy="504.2" r="4.2" style="stroke-width:1.3"/>
<line class="m" x1="539.66" y1="504.2" x2="565.66" y2="504.2"/>
<line class="m" x1="552.66" y1="489.4" x2="552.66" y2="519"/>
<path class="k" d="M544.46,501.6Q542.46,504.2 544.06,507" style="stroke-width:1.9"/>
<rect class="bar" x="547.76" y="487.3" width="9.8" height="4.2" rx="1.6"/>
<text class="d" x="552.66" y="477.3" font-size="5.0" text-anchor="middle" textLength="4.2" lengthAdjust="spacingAndGlyphs">07</text>
<text class="d" x="552.66" y="484.5" font-size="5.0" text-anchor="middle" textLength="8.4" lengthAdjust="spacingAndGlyphs">P1·S</text>
<rect class="bar" x="565.66" y="499.3" width="4.2" height="9.8" rx="1.6"/>
<text class="d" x="571.76" y="506.1" font-size="5.0" text-anchor="start" textLength="4.2" lengthAdjust="spacingAndGlyphs">P2</text>
<rect class="sq" x="98.74" y="548.1" width="30.2" height="29.6"/>
<circle class="k" cx="113.84" cy="562.9" r="4.2" style="stroke-width:1.3"/>
<line class="m" x1="100.84" y1="562.9" x2="126.84" y2="562.9"/>
<line class="m" x1="113.84" y1="548.1" x2="113.84" y2="577.7"/>
<path class="k" d="M105.64,560.3Q103.64,562.9 105.24,565.7" style="stroke-width:1.9"/>
<rect class="bar" x="108.94" y="546" width="9.8" height="4.2" rx="1.6"/>
<text class="d" x="113.84" y="537.2" font-size="5.0" text-anchor="middle" textLength="4.2" lengthAdjust="spacingAndGlyphs">08</text>
<text class="d" x="113.84" y="543.8" font-size="5.0" text-anchor="middle" textLength="8.4" lengthAdjust="spacingAndGlyphs">P1·S</text>
<rect class="bar" x="108.94" y="575.6" width="9.8" height="4.2" rx="1.6"/>
<text class="d" x="113.84" y="585.5" font-size="5.0" text-anchor="middle" textLength="4.2" lengthAdjust="spacingAndGlyphs">P2</text>
<rect class="sq" x="161.43" y="548.1" width="30.2" height="29.6"/>
<circle class="k" cx="176.53" cy="562.9" r="4.2" style="stroke-width:1.3"/>
<line class="m" x1="163.53" y1="562.9" x2="189.53" y2="562.9"/>
<line class="m" x1="176.53" y1="548.1" x2="176.53" y2="577.7"/>
<path class="k" d="M168.33,560.3Q166.33,562.9 167.93,565.7" style="stroke-width:1.9"/>
<rect class="bar" x="171.63" y="546" width="9.8" height="4.2" rx="1.6"/>
<text class="d" x="176.53" y="537.2" font-size="5.0" text-anchor="middle" textLength="4.2" lengthAdjust="spacingAndGlyphs">09</text>
<text class="d" x="176.53" y="543.8" font-size="5.0" text-anchor="middle" textLength="8.4" lengthAdjust="spacingAndGlyphs">P1·S</text>
<rect class="bar" x="159.33" y="558" width="4.2" height="9.8" rx="1.6"/>
<text class="d" x="157.43" y="564.8" font-size="5.0" text-anchor="end" textLength="4.2" lengthAdjust="spacingAndGlyphs">P2</text>
<rect class="sq" x="224.12" y="548.1" width="30.2" height="29.6"/>
<circle class="k" cx="239.22" cy="562.9" r="4.2" style="stroke-width:1.3"/>
<line class="m" x1="226.22" y1="562.9" x2="252.22" y2="562.9"/>
<line class="m" x1="239.22" y1="548.1" x2="239.22" y2="577.7"/>
<path class="k" d="M231.02,560.3Q229.02,562.9 230.62,565.7" style="stroke-width:1.9"/>
<rect class="bar" x="234.32" y="546" width="9.8" height="4.2" rx="1.6"/>
<text class="d" x="239.22" y="537.2" font-size="5.0" text-anchor="middle" textLength="4.2" lengthAdjust="spacingAndGlyphs">10</text>
<text class="d" x="239.22" y="543.8" font-size="5.0" text-anchor="middle" textLength="4.2" lengthAdjust="spacingAndGlyphs">P1</text>
<rect class="bar" x="252.22" y="558" width="4.2" height="9.8" rx="1.6"/>
<text class="d" x="258.32" y="564.8" font-size="5.0" text-anchor="start" textLength="2.1" lengthAdjust="spacingAndGlyphs">S</text>
<rect class="bar" x="234.32" y="575.6" width="9.8" height="4.2" rx="1.6"/>
<text class="d" x="239.22" y="585.5" font-size="5.0" text-anchor="middle" textLength="4.2" lengthAdjust="spacingAndGlyphs">P2</text>
<rect class="sq" x="286.81" y="548.1" width="30.2" height="29.6"/>
<circle class="k" cx="301.91" cy="562.9" r="4.2" style="stroke-width:1.3"/>
<line class="m" x1="288.91" y1="562.9" x2="314.91" y2="562.9"/>
<line class="m" x1="301.91" y1="548.1" x2="301.91" y2="577.7"/>
<path class="k" d="M293.71,560.3Q291.71,562.9 293.31,565.7" style="stroke-width:1.9"/>
<rect class="bar" x="297.01" y="546" width="9.8" height="4.2" rx="1.6"/>
<text class="d" x="301.91" y="537.2" font-size="5.0" text-anchor="middle" textLength="4.2" lengthAdjust="spacingAndGlyphs">11</text>
<text class="d" x="301.91" y="543.8" font-size="5.0" text-anchor="middle" textLength="4.2" lengthAdjust="spacingAndGlyphs">P1</text>
<rect class="bar" x="284.71" y="558" width="4.2" height="9.8" rx="1.6"/>
<text class="d" x="282.81" y="564.8" font-size="5.0" text-anchor="end" textLength="4.2" lengthAdjust="spacingAndGlyphs">P2</text>
<rect class="bar" x="314.91" y="558" width="4.2" height="9.8" rx="1.6"/>
<text class="d" x="321.01" y="564.8" font-size="5.0" text-anchor="start" textLength="2.1" lengthAdjust="spacingAndGlyphs">S</text>
<rect class="sq" x="349.49" y="548.1" width="30.2" height="29.6"/>
<circle class="k" cx="364.59" cy="562.9" r="4.2" style="stroke-width:1.3"/>
<line class="m" x1="351.59" y1="562.9" x2="377.59" y2="562.9"/>
<line class="m" x1="364.59" y1="548.1" x2="364.59" y2="577.7"/>
<path class="k" d="M356.39,560.3Q354.39,562.9 355.99,565.7" style="stroke-width:1.9"/>
<rect class="bar" x="359.69" y="546" width="9.8" height="4.2" rx="1.6"/>
<text class="d" x="364.59" y="537.2" font-size="5.0" text-anchor="middle" textLength="4.2" lengthAdjust="spacingAndGlyphs">12</text>
<text class="d" x="364.59" y="543.8" font-size="5.0" text-anchor="middle" textLength="4.2" lengthAdjust="spacingAndGlyphs">P1</text>
<rect class="bar" x="377.59" y="558" width="4.2" height="9.8" rx="1.6"/>
<text class="d" x="383.69" y="564.8" font-size="5.0" text-anchor="start" textLength="4.2" lengthAdjust="spacingAndGlyphs">P2</text>
<rect class="bar" x="359.69" y="575.6" width="9.8" height="4.2" rx="1.6"/>
<text class="d" x="364.59" y="585.5" font-size="5.0" text-anchor="middle" textLength="2.1" lengthAdjust="spacingAndGlyphs">S</text>
<rect class="sq" x="412.18" y="548.1" width="30.2" height="29.6"/>
<circle class="k" cx="427.28" cy="562.9" r="4.2" style="stroke-width:1.3"/>
<line class="m" x1="414.28" y1="562.9" x2="440.28" y2="562.9"/>
<line class="m" x1="427.28" y1="548.1" x2="427.28" y2="577.7"/>
<path class="k" d="M419.08,560.3Q417.08,562.9 418.68,565.7" style="stroke-width:1.9"/>
<rect class="bar" x="422.38" y="546" width="9.8" height="4.2" rx="1.6"/>
<text class="d" x="427.28" y="537.2" font-size="5.0" text-anchor="middle" textLength="4.2" lengthAdjust="spacingAndGlyphs">13</text>
<text class="d" x="427.28" y="543.8" font-size="5.0" text-anchor="middle" textLength="4.2" lengthAdjust="spacingAndGlyphs">P1</text>
<rect class="bar" x="410.08" y="558" width="4.2" height="9.8" rx="1.6"/>
<text class="d" x="408.18" y="564.8" font-size="5.0" text-anchor="end" textLength="2.1" lengthAdjust="spacingAndGlyphs">S</text>
<rect class="bar" x="440.28" y="558" width="4.2" height="9.8" rx="1.6"/>
<text class="d" x="446.38" y="564.8" font-size="5.0" text-anchor="start" textLength="4.2" lengthAdjust="spacingAndGlyphs">P2</text>
<rect class="sq" x="474.87" y="548.1" width="30.2" height="29.6"/>
<circle class="k" cx="489.97" cy="562.9" r="4.2" style="stroke-width:1.3"/>
<line class="m" x1="476.97" y1="562.9" x2="502.97" y2="562.9"/>
<line class="m" x1="489.97" y1="548.1" x2="489.97" y2="577.7"/>
<path class="k" d="M481.77,560.3Q479.77,562.9 481.37,565.7" style="stroke-width:1.9"/>
<rect class="bar" x="485.07" y="546" width="9.8" height="4.2" rx="1.6"/>
<text class="d" x="489.97" y="537.2" font-size="5.0" text-anchor="middle" textLength="4.2" lengthAdjust="spacingAndGlyphs">14</text>
<text class="d" x="489.97" y="543.8" font-size="5.0" text-anchor="middle" textLength="4.2" lengthAdjust="spacingAndGlyphs">P1</text>
<rect class="bar" x="472.77" y="558" width="4.2" height="9.8" rx="1.6"/>
<text class="d" x="470.87" y="564.8" font-size="5.0" text-anchor="end" textLength="2.1" lengthAdjust="spacingAndGlyphs">S</text>
<rect class="bar" x="485.07" y="575.6" width="9.8" height="4.2" rx="1.6"/>
<text class="d" x="489.97" y="585.5" font-size="5.0" text-anchor="middle" textLength="4.2" lengthAdjust="spacingAndGlyphs">P2</text>
<rect class="sq" x="537.56" y="548.1" width="30.2" height="29.6"/>
<circle class="k" cx="552.66" cy="562.9" r="4.2" style="stroke-width:1.3"/>
<line class="m" x1="539.66" y1="562.9" x2="565.66" y2="562.9"/>
<line class="m" x1="552.66" y1="548.1" x2="552.66" y2="577.7"/>
<path class="k" d="M544.46,560.3Q542.46,562.9 544.06,565.7" style="stroke-width:1.9"/>
<rect class="bar" x="547.76" y="546" width="9.8" height="4.2" rx="1.6"/>
<text class="d" x="552.66" y="537.2" font-size="5.0" text-anchor="middle" textLength="4.2" lengthAdjust="spacingAndGlyphs">15</text>
<text class="d" x="552.66" y="543.8" font-size="5.0" text-anchor="middle" textLength="4.2" lengthAdjust="spacingAndGlyphs">P1</text>
<rect class="bar" x="535.46" y="558" width="4.2" height="9.8" rx="1.6"/>
<text class="d" x="533.56" y="564.8" font-size="5.0" text-anchor="end" textLength="4.2" lengthAdjust="spacingAndGlyphs">P2</text>
<rect class="bar" x="547.76" y="575.6" width="9.8" height="4.2" rx="1.6"/>
<text class="d" x="552.66" y="585.5" font-size="5.0" text-anchor="middle" textLength="2.1" lengthAdjust="spacingAndGlyphs">S</text>
</svg>
</body></html>
